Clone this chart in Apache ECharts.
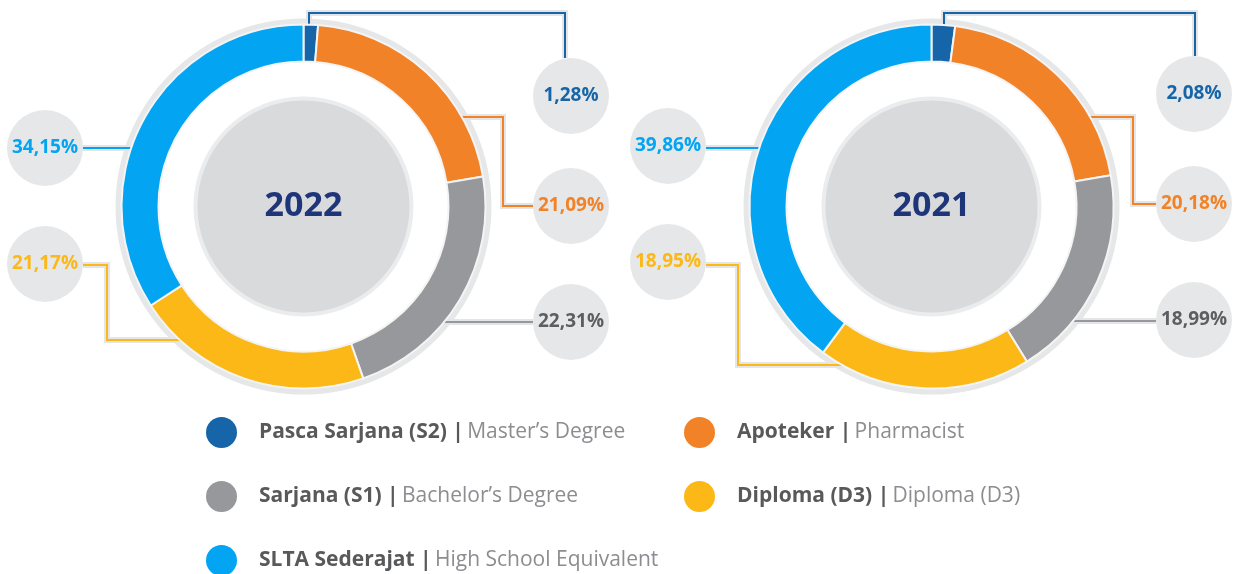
<!DOCTYPE html>
<html>
<head>
<meta charset="utf-8">
<title>Pendidikan 2022 / 2021</title>
<script src="https://cdn.jsdelivr.net/npm/echarts@6/dist/echarts.min.js"></script>
<style>
  html, body { margin: 0; padding: 0; background: #fff; }
  #main { width: 1238px; height: 574px; }
</style>
</head>
<body>
<div id="main"></div>
<script>
var years = ['2022', '2021'];
var categories = ['Pasca Sarjana (S2)', 'Apoteker', 'Sarjana (S1)', 'Diploma (D3)', 'SLTA Sederajat'];
var englishNames = ['Master\u2019s Degree', 'Pharmacist', 'Bachelor\u2019s Degree', 'Diploma (D3)', 'High School Equivalent'];
var values2022 = [1.28, 21.09, 22.31, 21.17, 34.15];
var values2021 = [2.08, 20.18, 18.99, 18.95, 39.86];
var yearValues = [values2022, values2021];

var sliceColors = ['#1565a8', '#f28227', '#97989b', '#fbb817', '#03a5f3'];
var textColors = ['#1565a8', '#f28227', '#5d5e61', '#fbb817', '#03a5f3'];

// layout of the two donuts and their call-out bubbles
var centers = [[303.5, 206.5], [931.5, 206.5]];
var RING = 181;
var labelSpots = [
    [[571, 96], [571, 206], [571, 322], [45, 264], [45, 148]],
    [[1194, 94], [1194, 204], [1194, 320], [668, 262], [668, 146]]
];
// first entry: where the leader leaves the ring ('v' = vertical at x, 'h' = horizontal at y, side)
var routes = [
    [
        [['v', 309], [309, 13], [565, 13], [565, 58]],
        [['h', 117, 1], [503, 117], [503, 206], [533, 206]],
        [['h', 322, 1], [533, 322]],
        [['h', 340, -1], [107, 340], [107, 265], [83, 265]],
        [['h', 148, -1], [83, 148]]
    ],
    [
        [['v', 944], [944, 13], [1195, 13], [1195, 56]],
        [['h', 117, 1], [1133, 117], [1133, 204], [1156, 204]],
        [['h', 321, 1], [1156, 321]],
        [['h', 365, -1], [738, 365], [738, 265], [706, 265]],
        [['h', 148, -1], [706, 148]]
    ]
];

function fmt(v) {
    return v.toFixed(2).replace('.', ',') + '%';
}

function makeLayout(k) {
    return function (params) {
        var spot = labelSpots[k][params.dataIndex];
        var route = routes[k][params.dataIndex];
        var c = centers[k];
        var s = route[0];
        var p0;
        if (s[0] === 'v') {
            p0 = [s[1], c[1] - Math.sqrt(RING * RING - Math.pow(s[1] - c[0], 2))];
        } else {
            p0 = [c[0] + s[2] * Math.sqrt(RING * RING - Math.pow(s[1] - c[1], 2)), s[1]];
        }
        return {
            x: spot[0],
            y: spot[1],
            align: 'center',
            verticalAlign: 'middle',
            labelLinePoints: [p0].concat(route.slice(1))
        };
    };
}

var chartDom = document.getElementById('main');
var myChart = echarts.init(chartDom);

var mainSeries = [], haloSeries = [], ringSeries = [], diskSeries = [];

years.forEach(function (year, k) {
    var vals = yearValues[k];

    mainSeries.push({
        type: 'pie',
        z: 4,
        silent: true,
        center: centers[k],
        radius: [145, 182],
        startAngle: 90,
        avoidLabelOverlap: false,
        emphasis: { disabled: true },
        itemStyle: { borderColor: '#f4f4f4', borderWidth: 2 },
        label: {
            show: true,
            position: 'outside',
            formatter: function (p) { return fmt(p.value); },
            fontFamily: 'Open Sans',
            fontWeight: 'bold',
            fontSize: 19,
            width: 76,
            height: 76,
            lineHeight: 76
        },
        labelLine: { show: true, smooth: false, lineStyle: { width: 2 } },
        labelLayout: makeLayout(k),
        data: categories.map(function (name, i) {
            return {
                name: name,
                value: vals[i],
                itemStyle: { color: sliceColors[i] },
                label: { color: textColors[i] },
                labelLine: { lineStyle: { color: sliceColors[i] } }
            };
        })
    });

    haloSeries.push({
        type: 'pie',
        z: 3,
        silent: true,
        center: centers[k],
        radius: [145, 182],
        startAngle: 90,
        avoidLabelOverlap: false,
        emphasis: { disabled: true },
        itemStyle: { color: 'rgba(0,0,0,0)' },
        label: {
            show: true,
            position: 'outside',
            formatter: function (p) { return fmt(p.value); },
            color: 'rgba(0,0,0,0)',
            fontFamily: 'Open Sans',
            fontWeight: 'bold',
            fontSize: 19,
            width: 76,
            height: 76,
            lineHeight: 76,
            backgroundColor: '#e6e7e8',
            borderRadius: 38
        },
        labelLine: { show: true, smooth: false, lineStyle: { width: 6, color: '#e4e5e7' } },
        labelLayout: makeLayout(k),
        data: categories.map(function (name, i) {
            return { name: name, value: vals[i] };
        })
    });

    ringSeries.push({
        type: 'pie',
        z: 1,
        silent: true,
        center: centers[k],
        radius: [180, 188],
        emphasis: { disabled: true },
        label: { show: false },
        labelLine: { show: false },
        itemStyle: { color: '#e6e7e8' },
        data: [{ name: 'ring', value: 1 }]
    });

    diskSeries.push({
        type: 'pie',
        z: 5,
        silent: true,
        center: centers[k],
        radius: [0, 108],
        emphasis: { disabled: true },
        itemStyle: { color: '#d9dadc', borderColor: '#ebeced', borderWidth: 4 },
        label: {
            show: true,
            position: 'center',
            formatter: year,
            fontFamily: 'Open Sans',
            fontWeight: 'bold',
            fontSize: 34,
            color: '#1f3579'
        },
        labelLine: { show: false },
        data: [{ name: 'year' + year, value: 1 }]
    });
});

function legendFormatter(name) {
    var i = categories.indexOf(name);
    return '{b|' + name + ' |} {l|' + englishNames[i] + '}';
}

var legendText = {
    rich: {
        b: { fontFamily: 'Open Sans', fontWeight: 'bold', fontSize: 21, color: '#58595b', padding: [0, 0, 0, 17], lineHeight: 26 },
        l: { fontFamily: 'Open Sans', fontSize: 21, color: '#8c8d90', lineHeight: 26 }
    }
};

function legendAt(left, names) {
    return {
        orient: 'vertical',
        left: left,
        top: 417,
        height: 170,
        padding: 0,
        itemWidth: 31,
        itemHeight: 31,
        itemGap: 33,
        icon: 'circle',
        itemStyle: { borderWidth: 0 },
        selectedMode: false,
        data: names,
        formatter: legendFormatter,
        textStyle: legendText
    };
}

var option = {
    animation: false,
    legend: [
        legendAt(206, [categories[0], categories[2], categories[4]]),
        legendAt(684, [categories[1], categories[3]])
    ],
    series: mainSeries.concat(haloSeries, ringSeries, diskSeries)
};

myChart.setOption(option);
</script>
</body>
</html>
